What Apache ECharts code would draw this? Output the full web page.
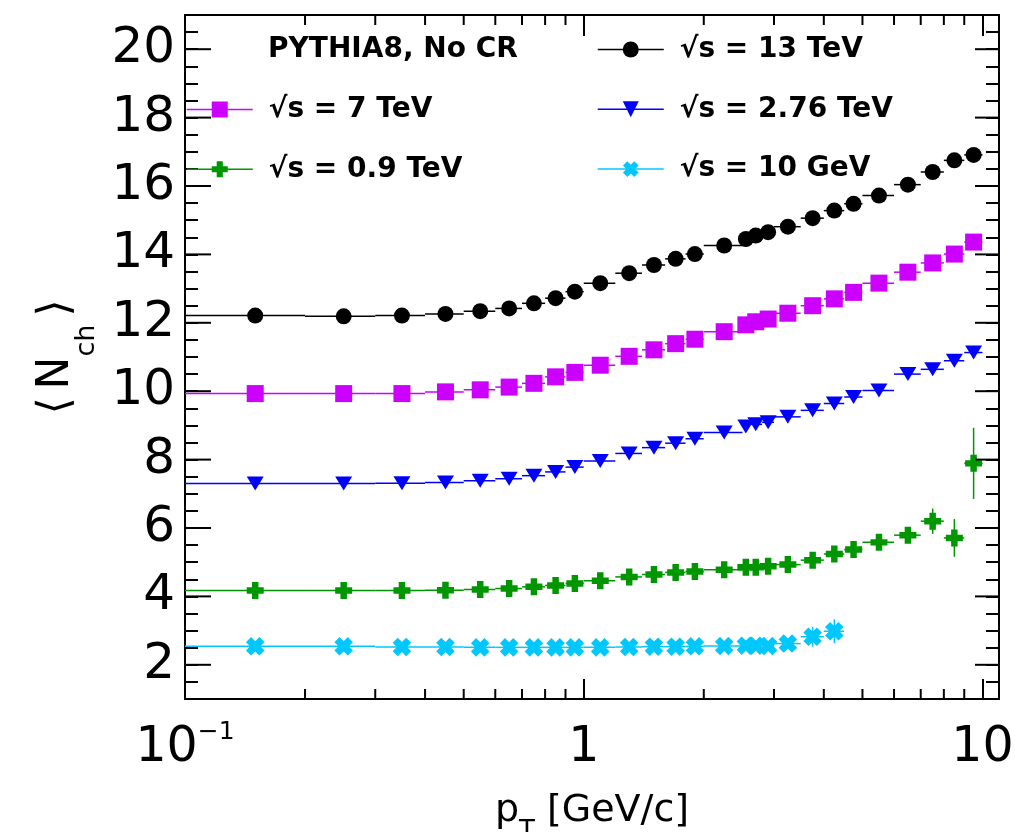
<!DOCTYPE html>
<html>
<head>
<meta charset="utf-8">
<script src="https://cdn.jsdelivr.net/npm/echarts@6/dist/echarts.min.js"></script>
<style>html,body{margin:0;padding:0;background:#fff}#c{width:1015px;height:832px}</style>
</head>
<body>
<div id="c"></div>
<script>
// ---- data ----
const ptCenters = [0.15,0.25,0.35,0.45,0.55,0.65,0.75,0.85,0.95,1.1,1.3,1.5,1.7,1.9,2.25,2.55,2.7,2.9,3.25,3.75,4.25,4.75,5.5,6.5,7.5,8.5,9.5];
const binLo = [0.1,0.2,0.3,0.4,0.5,0.6,0.7,0.8,0.9,1.0,1.2,1.4,1.6,1.8,2.0,2.5,2.6,2.8,3.0,3.5,4.0,4.5,5,6,7,8,9];
const binHi = [0.2,0.3,0.4,0.5,0.6,0.7,0.8,0.9,1.0,1.2,1.4,1.6,1.8,2.0,2.5,2.6,2.8,3.0,3.5,4.0,4.5,5,6,7,8,9,10];
const nch13TeV = [12.21,12.19,12.21,12.26,12.34,12.42,12.57,12.72,12.91,13.16,13.45,13.69,13.87,14.01,14.26,14.45,14.55,14.65,14.81,15.06,15.28,15.48,15.72,16.04,16.41,16.75,16.91];
const nch7TeV = [9.93,9.93,9.93,9.98,10.04,10.12,10.23,10.42,10.55,10.76,11.02,11.21,11.39,11.52,11.74,11.94,12.03,12.11,12.28,12.50,12.70,12.89,13.16,13.48,13.75,14.01,14.36];
const nch276TeV = [7.30,7.30,7.31,7.33,7.38,7.44,7.53,7.64,7.78,7.96,8.18,8.35,8.48,8.61,8.79,8.97,9.03,9.09,9.25,9.44,9.64,9.83,10.02,10.50,10.64,10.89,11.13];
const nch09TeV = [4.17,4.17,4.17,4.18,4.20,4.23,4.28,4.32,4.38,4.46,4.57,4.64,4.70,4.73,4.78,4.85,4.85,4.88,4.93,5.06,5.24,5.37,5.58,5.79,6.20,5.71,7.89];
const err09TeV = [0,0,0,0,0,0,0,0,0,0,0,0,0,0,0,0,0,0,0,0,0,0,0.04,0.08,0.37,0.55,1.04];
const nch10GeV = [2.54,2.54,2.52,2.52,2.51,2.51,2.51,2.51,2.51,2.51,2.52,2.53,2.53,2.54,2.55,2.56,2.56,2.55,2.62,2.82,2.98];
const err10GeV = [0,0,0,0,0,0,0,0,0,0,0,0,0,0,0,0,0,0,0.08,0.29,0.35];
const seriesNames = ['√s = 13 TeV','√s = 7 TeV','√s = 2.76 TeV','√s = 0.9 TeV','√s = 10 GeV'];
const xTickValues = [0.1, 1, 10];
const xTickLabels = ['{b|10}{sup|−1}', '{b|1}', '{b|10}'];
const yMajorTicks = [2,4,6,8,10,12,14,16,18,20];
const xMinorTicks = [0.2,0.3,0.4,0.5,0.6,0.7,0.8,0.9,2,3,4,5,6,7,8,9];
const xRange = [0.1, 11];
const yRange = [1, 21];

// ---- styling ----
const FONT = 'DejaVu Sans';
const plusPath = 'path://M3.1,0H6.9V3.1H10V6.9H6.9V10H3.1V6.9H0V3.1H3.1Z';
const defs = [
  {name: seriesNames[0], vals: nch13TeV, err: null, color: '#000000', symbol: 'circle', size: 16, rot: 0},
  {name: seriesNames[1], vals: nch7TeV, err: null, color: '#cc00ff', symbol: 'rect', size: 17, rot: 0},
  {name: seriesNames[2], vals: nch276TeV, err: null, color: '#0000ff', symbol: 'triangle', size: [17, 14], rot: 180},
  {name: seriesNames[3], vals: nch09TeV, err: err09TeV, color: '#009600', symbol: plusPath, size: 17, rot: 0},
  {name: seriesNames[4], vals: nch10GeV, err: err10GeV, color: '#00c8ff', symbol: plusPath, size: 19, rot: 45}
];

function binRenderer(color) {
  return function (params, api) {
    const x = api.value(0), y = api.value(1), lo = api.value(2), hi = api.value(3), e = api.value(4);
    const a = api.coord([lo, y]), b = api.coord([hi, y]);
    const children = [{type: 'line', shape: {x1: a[0], y1: a[1], x2: b[0], y2: b[1]}, style: {stroke: color, lineWidth: 1.5}}];
    if (e > 0) {
      const u = api.coord([x, y + e]), d = api.coord([x, y - e]);
      children.push({type: 'line', shape: {x1: u[0], y1: u[1], x2: d[0], y2: d[1]}, style: {stroke: color, lineWidth: 1.5}});
    }
    return {type: 'group', children: children};
  };
}

const series = [];
defs.forEach(function (d) {
  series.push({
    name: 'bins ' + d.name, type: 'custom', coordinateSystem: 'cartesian2d',
    encode: {x: 0, y: 1}, z: 3, silent: true, animation: false,
    data: d.vals.map(function (v, i) { return [ptCenters[i], v, binLo[i], binHi[i], d.err ? d.err[i] : 0]; }),
    renderItem: binRenderer(d.color)
  });
  series.push({
    name: d.name, type: 'line', z: 5, animation: false, silent: true,
    data: d.vals.map(function (v, i) { return [ptCenters[i], v]; }),
    symbol: d.symbol, symbolSize: d.size, symbolRotate: d.rot, showSymbol: true,
    itemStyle: {color: d.color, opacity: 1},
    lineStyle: {color: d.color, width: 1.5, opacity: 0},
    emphasis: {disabled: true}
  });
});

// minor ticks on the log x axis (bottom and top)
series.push({
  type: 'custom', name: 'xMinorTicks', coordinateSystem: 'cartesian2d', encode: {x: 0, y: 1},
  z: 10, silent: true, animation: false,
  data: xMinorTicks.map(function (v) { return [v, yRange[0]]; }),
  renderItem: function (params, api) {
    const x = api.value(0);
    const b = api.coord([x, yRange[0]]), t = api.coord([x, yRange[1]]);
    return {type: 'group', children: [
      {type: 'line', shape: {x1: b[0], y1: b[1], x2: b[0], y2: b[1] - 10}, style: {stroke: '#000', lineWidth: 2}},
      {type: 'line', shape: {x1: t[0], y1: t[1], x2: t[0], y2: t[1] + 10}, style: {stroke: '#000', lineWidth: 2}}
    ]};
  }
});
// major ticks on the y axes (left and right)
series.push({
  type: 'custom', name: 'yMajorTicks', coordinateSystem: 'cartesian2d', encode: {x: 0, y: 1},
  z: 10, silent: true, animation: false,
  data: yMajorTicks.map(function (v) { return [xRange[0], v]; }),
  renderItem: function (params, api) {
    const y = api.value(1);
    const l = api.coord([xRange[0], y]), r = api.coord([xRange[1], y]);
    return {type: 'group', children: [
      {type: 'line', shape: {x1: l[0], y1: l[1], x2: l[0] + 26, y2: l[1]}, style: {stroke: '#000', lineWidth: 2}},
      {type: 'line', shape: {x1: r[0], y1: r[1], x2: r[0] - 24, y2: r[1]}, style: {stroke: '#000', lineWidth: 2}}
    ]};
  }
});

const axisLineStyle = {show: true, onZero: false, lineStyle: {color: '#000', width: 2}};
const tickLineStyle = {color: '#000', width: 2};
function xLabel(v) {
  for (let i = 0; i < xTickValues.length; i++) {
    if (Math.abs(Math.log10(v) - Math.log10(xTickValues[i])) < 1e-6) return xTickLabels[i];
  }
  return '';
}
function yLabel(v) {
  for (let i = 0; i < yMajorTicks.length; i++) {
    if (Math.abs(v - yMajorTicks[i]) < 1e-6) return String(yMajorTicks[i]);
  }
  return '';
}
const legendText = {fontFamily: FONT, fontSize: 28, fontWeight: 'bold', color: '#000', lineHeight: 30, padding: [0, 0, 0, 11]};

const option = {
  animation: false,
  backgroundColor: '#ffffff',
  textStyle: {fontFamily: FONT},
  grid: {left: 185, right: 16, top: 15, bottom: 133, containLabel: false, outerBoundsMode: 'none'},
  title: {text: 'PYTHIA8, No CR', left: 268, top: 36, padding: 0,
    textStyle: {fontFamily: FONT, fontSize: 28, fontWeight: 'bold', color: '#000'}},
  legend: [
    {left: 597, top: 34.5, orient: 'vertical', itemGap: 29.8, itemWidth: 66, itemHeight: 20, padding: 0,
      selectedMode: false, textStyle: legendText, lineStyle: {opacity: 1, width: 1.5},
      data: [seriesNames[0], seriesNames[2], seriesNames[4]]},
    {left: 186, top: 94.5, orient: 'vertical', itemGap: 29.8, itemWidth: 66, itemHeight: 20, padding: 0,
      selectedMode: false, textStyle: legendText, lineStyle: {opacity: 1, width: 1.5},
      data: [seriesNames[1], seriesNames[3]]}
  ],
  xAxis: [
    {type: 'log', logBase: 10, min: xRange[0], max: xRange[1], position: 'bottom',
      axisLine: axisLineStyle,
      axisTick: {show: true, inside: true, length: 20, lineStyle: tickLineStyle},
      minorTick: {show: false}, splitLine: {show: false},
      axisLabel: {show: true, margin: 21, formatter: xLabel, color: '#000',
        rich: {
          b: {fontFamily: FONT, fontSize: 49, lineHeight: 56, color: '#000'},
          sup: {fontFamily: FONT, fontSize: 25, lineHeight: 40, verticalAlign: 'top', color: '#000'}
        }},
      name: '{a|p}{t|T}{a| [GeV/c]}', nameLocation: 'middle', nameGap: 67,
      nameTextStyle: {color: '#000', rich: {
        a: {fontFamily: FONT, fontSize: 38, lineHeight: 38, color: '#000'},
        t: {fontFamily: FONT, fontSize: 26, lineHeight: 26, padding: [42, 0, 0, 0], color: '#000'}
      }}},
    {type: 'log', logBase: 10, min: xRange[0], max: xRange[1], position: 'top',
      axisLine: axisLineStyle,
      axisTick: {show: true, inside: true, length: 21, lineStyle: tickLineStyle},
      minorTick: {show: false}, splitLine: {show: false}, axisLabel: {show: false}}
  ],
  yAxis: [
    {type: 'value', min: yRange[0], max: yRange[1], interval: 0.5, position: 'left',
      axisLine: axisLineStyle,
      axisTick: {show: true, inside: true, length: 13, lineStyle: tickLineStyle},
      splitLine: {show: false},
      axisLabel: {show: true, margin: 10, formatter: yLabel, fontFamily: FONT, fontSize: 50, color: '#000'},
      name: '{l|⟨}{n|N}{s|ch}{r|⟩}', nameLocation: 'middle', nameGap: 104, nameRotate: 90,
      nameTextStyle: {color: '#000', rich: {
        l: {fontFamily: FONT, fontSize: 44, lineHeight: 44, padding: [0, 8, 0, 0], color: '#000'},
        n: {fontFamily: FONT, fontSize: 44, lineHeight: 44, color: '#000'},
        s: {fontFamily: FONT, fontSize: 27, lineHeight: 27, padding: [60, 0, 0, 0], color: '#000'},
        r: {fontFamily: FONT, fontSize: 44, lineHeight: 44, padding: [0, 0, 0, 8], color: '#000'}
      }}},
    {type: 'value', min: yRange[0], max: yRange[1], interval: 0.5, position: 'right',
      axisLine: axisLineStyle,
      axisTick: {show: true, inside: true, length: 13, lineStyle: tickLineStyle},
      splitLine: {show: false}, axisLabel: {show: false}}
  ],
  series: series
};

const chart = echarts.init(document.getElementById('c'), null, {renderer: 'canvas'});
chart.setOption(option);
</script>
</body>
</html>
